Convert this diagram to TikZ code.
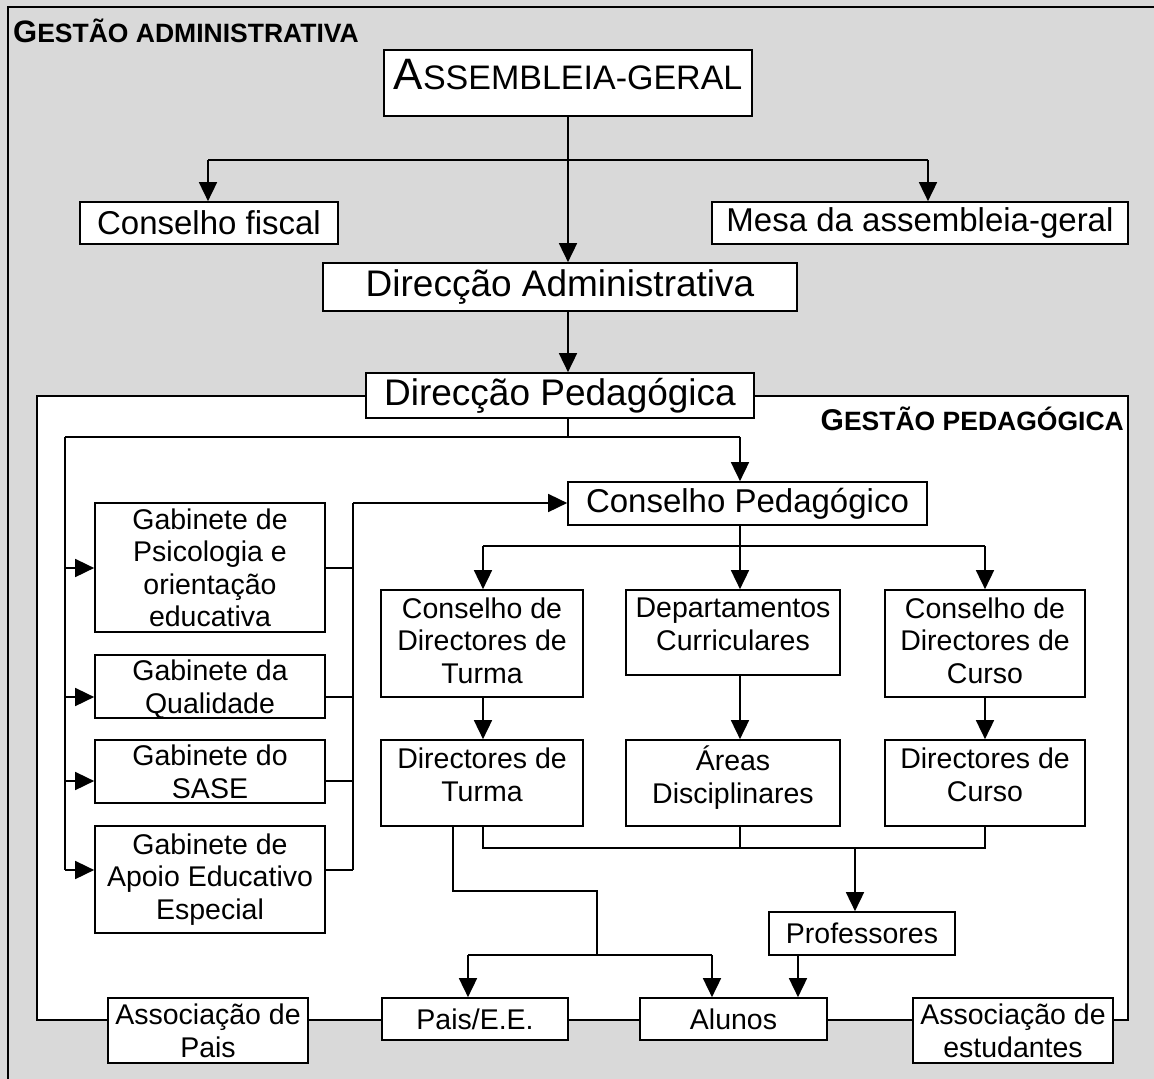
\documentclass[tikz,border=0pt]{standalone}
\usepackage{fontspec}
\setmainfont{Liberation Sans}
\usetikzlibrary{arrows.meta,calc}
\definecolor{bggray}{RGB}{217,217,217}
\begin{document}
\begin{tikzpicture}[x=1pt,y=-1pt,
  ln/.style={line width=1.7pt},
  arr/.style={line width=1.7pt,-{Triangle[length=19pt,width=18pt]}},
  box/.style={draw,line width=1.7pt,fill=white,inner sep=0pt,align=center},
  sm/.style={font=\fontsize{28.5}{32.5}\selectfont},
  md/.style={font=\fontsize{33}{38}\selectfont},
  lg/.style={font=\fontsize{37}{42}\selectfont},
  low/.style={text depth=-8pt},
  high/.style={text depth=17pt}]
\useasboundingbox (0,0) rectangle (1154,1079);
\fill[bggray] (0,0) rectangle (1154,1079);
\draw[ln] (1154,7) -- (8,7) -- (8,1079);
\fill[white] (37,396) rectangle (1128,1020);

% titles
\node[anchor=base west,inner sep=0pt] (t1) at (13,42)
  {\bfseries\fontsize{31}{31}\selectfont G\fontsize{26.5}{27}\selectfont ESTÃO ADMINISTRATIVA};
\node[anchor=base east,inner sep=0pt] (t2) at (1124,430)
  {\bfseries\fontsize{30}{30}\selectfont G\fontsize{26.5}{27}\selectfont ESTÃO PEDAGÓGICA};

% top part
\node[box,minimum width=368,minimum height=66,text height=31.5pt,text depth=18pt] (ag) at (568,83)
  {\fontsize{44}{44}\selectfont A\fontsize{34}{34}\selectfont SSEMBLEIA-GERAL};
\node[box,md,minimum width=258,minimum height=42] (cf) at (209,223) {Conselho fiscal};
\node[box,md,minimum width=416,minimum height=42] (mesa) at (920,223) {Mesa da assembleia-geral};
\node[box,lg,minimum width=474,minimum height=48] (da) at (560,287) {Direcção Administrativa};
\node[box,lg,minimum width=388,minimum height=45] (dp) at (560,395.5) {Direcção Pedagógica};
\node[box,md,minimum width=359,minimum height=43] (cp) at (747.5,503.5) {Conselho Pedagógico};

% gabinetes
\node[box,sm,low,minimum width=230,minimum height=129] (g1) at (210,567.5) {Gabinete de\\Psicologia e\\orientação\\educativa};
\node[box,sm,text depth=-10pt,minimum width=230,minimum height=63] (g2) at (210,686.5) {Gabinete da\\Qualidade};
\node[box,sm,low,minimum width=230,minimum height=63] (g3) at (210,771.5) {Gabinete do\\SASE};
\node[box,sm,minimum width=230,minimum height=107] (g4) at (210,879.5) {Gabinete de\\Apoio Educativo\\Especial};

% rows
\node[box,sm,text depth=6pt,minimum width=202,minimum height=107] (cdt) at (482,643.5) {Conselho de\\Directores de\\Turma};
\node[box,sm,high,minimum width=214,minimum height=85] (dc) at (733,632.5) {Departamentos\\Curriculares};
\node[box,sm,text depth=6pt,minimum width=200,minimum height=107] (cdc) at (985,643.5) {Conselho de\\Directores de\\Curso};
\node[box,sm,high,minimum width=202,minimum height=86] (dt) at (482,783) {Directores de\\Turma};
\node[box,sm,high,minimum width=214,minimum height=86] (ad) at (733,783) {Áreas\\Disciplinares};
\node[box,sm,high,minimum width=200,minimum height=86] (dcu) at (985,783) {Directores de\\Curso};
\node[box,sm,minimum width=186,minimum height=43] (prof) at (862,933.5) {Professores};

% bottom row
\node[box,sm,low,minimum width=200,minimum height=65] (ap) at (208,1030.5) {Associação de\\Pais};
\node[box,sm,minimum width=186,minimum height=42] (pais) at (475,1019) {Pais/E.E.};
\node[box,sm,minimum width=187,minimum height=42] (alunos) at (733.5,1019) {Alunos};
\node[box,sm,low,minimum width=200,minimum height=65] (ae) at (1013,1030.5) {Associação de\\estudantes};

% coordinates
\coordinate (a1) at (208,160);
\coordinate (a2) at (928,160);
\coordinate (fl) at (37,396);
\coordinate (fr) at (1128,396);
\coordinate (bl) at (37,1020);
\coordinate (br) at (1128,1020);
\coordinate (b0) at (65,437);
\coordinate (b1) at (740,437);
\coordinate (l1) at (65,568);
\coordinate (l2) at (65,697);
\coordinate (l3) at (65,781);
\coordinate (l4) at (65,870);
\coordinate (r1) at (353,568);
\coordinate (r2) at (353,697);
\coordinate (r3) at (353,781);
\coordinate (r4) at (353,870);
\coordinate (rt) at (353,503);
\coordinate (c0) at (740,546);
\coordinate (cL) at (483,546);
\coordinate (cR) at (985,546);
\coordinate (d0) at (483,848);
\coordinate (d1) at (740,848);
\coordinate (d2) at (985,848);
\coordinate (dq) at (855,848);
\coordinate (e0) at (453,891);
\coordinate (e1) at (597,891);
\coordinate (e2) at (597,955);
\coordinate (e3) at (468,955);
\coordinate (e4) at (712,955);
\coordinate (f0) at (798,955);

% top connectors
\draw[ln] (a1) -- (a2);
\draw[arr] (ag.south) -- (ag.south |- da.north);
\draw[arr] (a1) -- (a1 |- cf.north);
\draw[arr] (a2) -- (a2 |- mesa.north);
\draw[arr] (da.south -| ag.south) -- (dp.north -| ag.south);

% inner frame
\draw[ln] (dp.west |- fl) -- (fl) -- (bl) -- (bl -| ap.west);
\draw[ln] (dp.east |- fr) -- (fr) -- (br) -- (br -| ae.east);
\draw[ln] (bl -| ap.east) -- (bl -| pais.west);
\draw[ln] (bl -| pais.east) -- (bl -| alunos.west);
\draw[ln] (bl -| alunos.east) -- (bl -| ae.west);

% DP bus
\draw[ln] (dp.south -| ag.south) -- (ag.south |- b0);
\draw[ln] (b0) -- (b1);
\draw[arr] (b1) -- (b1 |- cp.north);
\draw[ln] (b0) -- (l4);
\draw[arr] (l1) -- (l1 -| g1.west);
\draw[arr] (l2) -- (l2 -| g2.west);
\draw[arr] (l3) -- (l3 -| g3.west);
\draw[arr] (l4) -- (l4 -| g4.west);
\draw[ln] (g1.east |- r1) -- (r1);
\draw[ln] (g2.east |- r2) -- (r2);
\draw[ln] (g3.east |- r3) -- (r3);
\draw[ln] (g4.east |- r4) -- (r4);
\draw[ln] (r4) -- (rt);
\draw[arr] (rt) -- (rt -| cp.west);

% CP down
\draw[ln] (cp.south -| c0) -- (c0);
\draw[ln] (cL) -- (cR);
\draw[arr] (cL) -- (cL |- cdt.north);
\draw[arr] (c0) -- (c0 |- dc.north);
\draw[arr] (cR) -- (cR |- cdc.north);
\draw[arr] (cdt.south -| cL) -- (dt.north -| cL);
\draw[arr] (dc.south -| c0) -- (ad.north -| c0);
\draw[arr] (cdc.south -| cR) -- (dcu.north -| cR);

% lower bus
\draw[ln] (dt.south -| d0) -- (d0) -- (d2) -- (dcu.south -| d2);
\draw[ln] (ad.south -| d1) -- (d1);
\draw[arr] (dq) -- (dq |- prof.north);
\draw[ln] (dt.south -| e0) -- (e0) -- (e1) -- (e2);
\draw[ln] (e3) -- (e4);
\draw[arr] (e3) -- (e3 |- pais.north);
\draw[arr] (e4) -- (e4 |- alunos.north);
\draw[arr] (prof.south -| f0) -- (alunos.north -| f0);
\end{tikzpicture}
\end{document}
